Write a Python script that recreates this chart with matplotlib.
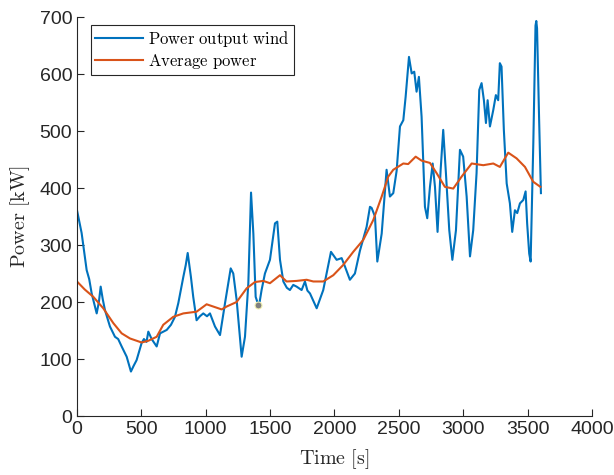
import numpy as np
import matplotlib
matplotlib.use("Agg")
import matplotlib.pyplot as plt

# Wind power trace
t_wind = [0, 36, 75, 95, 114, 153, 170, 184, 200, 217, 256, 295, 320, 347, 386, 419, 440, 463,
          502, 520, 540, 554, 580, 619, 645, 697, 730, 761, 787, 826, 845, 860, 885, 903, 929,
          955, 981, 1010, 1033, 1072, 1111, 1150, 1194, 1214, 1240, 1279, 1305, 1331, 1352,
          1370, 1388, 1413, 1434, 1460, 1499, 1538, 1556, 1577, 1603, 1630, 1654, 1680, 1706,
          1745, 1771, 1790, 1810, 1862, 1913, 1973, 2017, 2056, 2082, 2120, 2159, 2198, 2250,
          2276, 2289, 2315, 2333, 2367, 2405, 2431, 2457, 2483, 2509, 2535, 2553, 2579, 2600,
          2620, 2638, 2656, 2677, 2703, 2721, 2742, 2763, 2781, 2801, 2825, 2845, 2866, 2892,
          2916, 2944, 2975, 3000, 3027, 3053, 3078, 3104, 3125, 3143, 3161, 3177, 3190, 3208,
          3234, 3254, 3272, 3285, 3298, 3316, 3338, 3363, 3381, 3402, 3420, 3441, 3467, 3485,
          3497, 3513, 3524, 3545, 3562, 3568, 3574, 3590, 3604]
p_wind = [361, 321, 256, 240, 215, 180, 200, 227, 205, 186, 157, 139, 135, 122, 104, 78, 88, 98,
          128, 135, 130, 148, 135, 122, 145, 151, 160, 174, 198, 244, 265, 286, 244, 209, 168,
          175, 180, 175, 180, 157, 142, 198, 259, 250, 204, 104, 139, 233, 392,
          320, 209, 192, 221, 250, 274, 338, 341, 274, 236, 225, 221, 230, 227,
          221, 236, 220, 215, 189, 221, 288, 274, 277, 262, 239, 250, 290, 332,
          367, 365, 350, 271, 320, 432, 385, 391, 430, 508, 519, 560, 630, 601,
          604, 569, 595, 525, 367, 347, 402, 443, 402, 323, 432, 502, 426, 326,
          274, 326, 467, 455, 385, 280, 326, 426, 572, 584, 554, 514, 554, 508,
          537, 563, 554, 619, 613, 502, 408, 373, 323, 361, 356, 373, 379, 394,
          338, 285, 271, 480, 685, 693, 680, 520, 391]

# Moving average
t_avg = [0, 60, 127, 204, 282, 347, 412, 502, 554, 619, 670, 748, 826, 929, 1007, 1059, 1124,
         1162, 1240, 1318, 1382, 1447, 1499, 1577, 1628, 1706, 1784, 1836, 1913, 1991, 2068,
         2146, 2224, 2302, 2367, 2418, 2457, 2535, 2573, 2631, 2677, 2742, 2794, 2858, 2923,
         2988, 3066, 3156, 3234, 3285, 3350, 3415, 3480, 3544, 3600]
p_avg = [236, 222, 209, 189, 163, 145, 136, 129, 132, 139, 160, 174, 180, 183, 196, 192, 187,
         192, 200, 224, 235, 237, 233, 247, 236, 237, 239, 236, 236, 247, 265,
         288, 309, 344, 385, 420, 432, 443, 442, 455, 448, 444, 426, 402, 399,
         420, 443, 440, 443, 437, 462, 452, 437, 411, 402]

tip_t, tip_p = 1410, 194

plt.rcParams['mathtext.fontset'] = 'cm'

fig = plt.figure(figsize=(6.14, 4.75), dpi=100)
ax = fig.add_axes([0.1254, 0.1242, 0.8386, 0.84])

ax.plot(t_wind, p_wind, color='#0072BD', lw=1.5, label=r'$\mathrm{Power\ output\ wind}$')
ax.plot(t_avg, p_avg, color='#D95319', lw=1.5, label=r'$\mathrm{Average\ power}$')
ax.plot([tip_t], [tip_p], 'o', ms=5, color='#808080', mec='#f0f0b0', mew=0.8)

ax.set_xlim(0, 4000)
ax.set_ylim(0, 700)
ax.set_xticks(np.arange(0, 4001, 500))
ax.set_yticks(np.arange(0, 701, 100))

for s in ['top', 'right']:
    ax.spines[s].set_visible(False)
for s in ['left', 'bottom']:
    ax.spines[s].set_color('#262626')
    ax.spines[s].set_linewidth(0.8)

ax.tick_params(direction='in', length=5, width=0.8, color='#262626',
               labelcolor='#262626', labelsize=14)
for lab in ax.get_xticklabels() + ax.get_yticklabels():
    lab.set_fontfamily('Liberation Sans')

ax.set_xlabel(r'$\mathrm{Time\ [s]}$', fontsize=14.5, color='#262626')
ax.set_ylabel(r'$\mathrm{Power\ [kW]}$', fontsize=14.5, color='#262626')
ax.xaxis.set_label_coords(0.5, -0.078)
ax.yaxis.set_label_coords(-0.087, 0.5)

leg = ax.legend(loc='upper left', bbox_to_anchor=(0.027, 0.98), borderaxespad=0,
                fancybox=False, framealpha=1, edgecolor='#262626', fontsize=12,
                handlelength=2.9, handletextpad=0.3, borderpad=0.25, labelspacing=0.15)
leg.get_frame().set_linewidth(0.8)

fig.savefig('out.png', dpi=100)
